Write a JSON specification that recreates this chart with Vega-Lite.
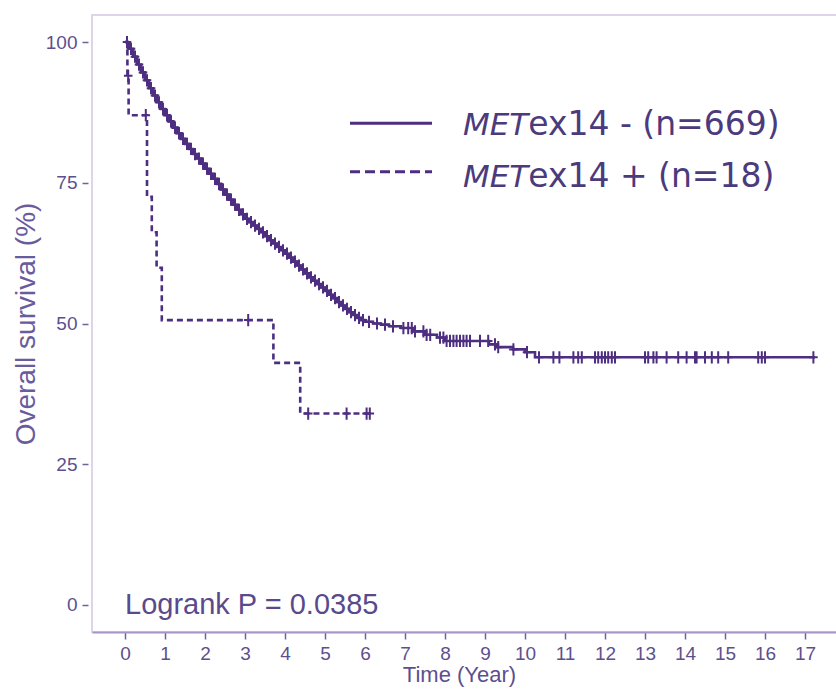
{
  "$schema": "https://vega.github.io/schema/vega-lite/v6.json",
  "autosize": {"type": "none"},
  "width": 746,
  "height": 617,
  "padding": {"left": 92, "top": 15, "right": 0, "bottom": 59},
  "background": "white",
  "config": {
    "view": {"stroke": "#ddd4ea", "strokeWidth": 2},
    "font": "Liberation Sans"
  },
  "datasets": {
    "curves": [
      {"group": "neg", "time": 0, "surv": 100},
      {"group": "neg", "time": 0.1, "surv": 98.8},
      {"group": "neg", "time": 0.2, "surv": 97.4},
      {"group": "neg", "time": 0.3, "surv": 96.0},
      {"group": "neg", "time": 0.4, "surv": 94.6},
      {"group": "neg", "time": 0.5, "surv": 93.2},
      {"group": "neg", "time": 0.6, "surv": 91.8},
      {"group": "neg", "time": 0.7, "surv": 90.5},
      {"group": "neg", "time": 0.8, "surv": 89.3},
      {"group": "neg", "time": 0.9, "surv": 88.1},
      {"group": "neg", "time": 1.0, "surv": 87.0},
      {"group": "neg", "time": 1.1, "surv": 85.9},
      {"group": "neg", "time": 1.2, "surv": 84.8},
      {"group": "neg", "time": 1.3, "surv": 83.8},
      {"group": "neg", "time": 1.4, "surv": 82.8},
      {"group": "neg", "time": 1.5, "surv": 81.9},
      {"group": "neg", "time": 1.6, "surv": 81.0},
      {"group": "neg", "time": 1.7, "surv": 80.1},
      {"group": "neg", "time": 1.8, "surv": 79.3},
      {"group": "neg", "time": 1.9, "surv": 78.4},
      {"group": "neg", "time": 2.0, "surv": 77.5},
      {"group": "neg", "time": 2.1, "surv": 76.6},
      {"group": "neg", "time": 2.2, "surv": 75.7},
      {"group": "neg", "time": 2.3, "surv": 74.8},
      {"group": "neg", "time": 2.4, "surv": 73.8},
      {"group": "neg", "time": 2.5, "surv": 72.9},
      {"group": "neg", "time": 2.6, "surv": 72.0},
      {"group": "neg", "time": 2.7, "surv": 71.1},
      {"group": "neg", "time": 2.8, "surv": 70.2},
      {"group": "neg", "time": 2.9, "surv": 69.4},
      {"group": "neg", "time": 3.0, "surv": 68.6},
      {"group": "neg", "time": 3.1, "surv": 68.0},
      {"group": "neg", "time": 3.2, "surv": 67.4},
      {"group": "neg", "time": 3.3, "surv": 66.8},
      {"group": "neg", "time": 3.4, "surv": 66.2},
      {"group": "neg", "time": 3.5, "surv": 65.5},
      {"group": "neg", "time": 3.6, "surv": 64.8},
      {"group": "neg", "time": 3.7, "surv": 64.2},
      {"group": "neg", "time": 3.8, "surv": 63.6},
      {"group": "neg", "time": 3.9, "surv": 63.0},
      {"group": "neg", "time": 4.0, "surv": 62.4},
      {"group": "neg", "time": 4.1, "surv": 61.7},
      {"group": "neg", "time": 4.2, "surv": 61.0},
      {"group": "neg", "time": 4.3, "surv": 60.3},
      {"group": "neg", "time": 4.4, "surv": 59.6},
      {"group": "neg", "time": 4.5, "surv": 58.9},
      {"group": "neg", "time": 4.6, "surv": 58.2},
      {"group": "neg", "time": 4.7, "surv": 57.6},
      {"group": "neg", "time": 4.8, "surv": 57.0},
      {"group": "neg", "time": 4.9, "surv": 56.4},
      {"group": "neg", "time": 5.0, "surv": 55.8},
      {"group": "neg", "time": 5.1, "surv": 55.1},
      {"group": "neg", "time": 5.2, "surv": 54.5},
      {"group": "neg", "time": 5.3, "surv": 53.8},
      {"group": "neg", "time": 5.4, "surv": 53.2},
      {"group": "neg", "time": 5.5, "surv": 52.6},
      {"group": "neg", "time": 5.6, "surv": 52.0},
      {"group": "neg", "time": 5.7, "surv": 51.5},
      {"group": "neg", "time": 5.8, "surv": 51.0},
      {"group": "neg", "time": 5.9, "surv": 50.6},
      {"group": "neg", "time": 6.0, "surv": 50.3},
      {"group": "neg", "time": 6.2, "surv": 50.0},
      {"group": "neg", "time": 6.4, "surv": 49.8},
      {"group": "neg", "time": 6.6, "surv": 49.5},
      {"group": "neg", "time": 6.9, "surv": 49.2},
      {"group": "neg", "time": 7.2, "surv": 48.6},
      {"group": "neg", "time": 7.5, "surv": 48.0},
      {"group": "neg", "time": 7.8, "surv": 47.5},
      {"group": "neg", "time": 8.0, "surv": 46.9},
      {"group": "neg", "time": 9.1, "surv": 46.3},
      {"group": "neg", "time": 9.3, "surv": 45.8},
      {"group": "neg", "time": 9.7, "surv": 45.4},
      {"group": "neg", "time": 10.0, "surv": 44.9},
      {"group": "neg", "time": 10.25, "surv": 44.0},
      {"group": "neg", "time": 17.25, "surv": 44.0},
      {"group": "pos", "time": 0, "surv": 100},
      {"group": "pos", "time": 0.06, "surv": 94.0},
      {"group": "pos", "time": 0.09, "surv": 87.0},
      {"group": "pos", "time": 0.55, "surv": 72.5},
      {"group": "pos", "time": 0.67, "surv": 66.2},
      {"group": "pos", "time": 0.79, "surv": 59.9},
      {"group": "pos", "time": 0.92, "surv": 50.6},
      {"group": "pos", "time": 3.71, "surv": 43.0},
      {"group": "pos", "time": 4.38, "surv": 34.0},
      {"group": "pos", "time": 6.15, "surv": 34.0}
    ],
    "censor": [
      {"group": "neg", "time": 0.05, "surv": 100},
      {"group": "neg", "time": 0.15, "surv": 98.8},
      {"group": "neg", "time": 0.25, "surv": 97.4},
      {"group": "neg", "time": 0.35, "surv": 96.0},
      {"group": "neg", "time": 0.45, "surv": 94.6},
      {"group": "neg", "time": 0.55, "surv": 93.2},
      {"group": "neg", "time": 0.65, "surv": 91.8},
      {"group": "neg", "time": 0.75, "surv": 90.5},
      {"group": "neg", "time": 0.85, "surv": 89.3},
      {"group": "neg", "time": 0.95, "surv": 88.1},
      {"group": "neg", "time": 1.05, "surv": 87.0},
      {"group": "neg", "time": 1.15, "surv": 85.9},
      {"group": "neg", "time": 1.25, "surv": 84.8},
      {"group": "neg", "time": 1.35, "surv": 83.8},
      {"group": "neg", "time": 1.45, "surv": 82.8},
      {"group": "neg", "time": 1.55, "surv": 81.9},
      {"group": "neg", "time": 1.65, "surv": 81.0},
      {"group": "neg", "time": 1.75, "surv": 80.1},
      {"group": "neg", "time": 1.85, "surv": 79.3},
      {"group": "neg", "time": 1.95, "surv": 78.4},
      {"group": "neg", "time": 2.05, "surv": 77.5},
      {"group": "neg", "time": 2.15, "surv": 76.6},
      {"group": "neg", "time": 2.25, "surv": 75.7},
      {"group": "neg", "time": 2.35, "surv": 74.8},
      {"group": "neg", "time": 2.45, "surv": 73.8},
      {"group": "neg", "time": 2.55, "surv": 72.9},
      {"group": "neg", "time": 2.65, "surv": 72.0},
      {"group": "neg", "time": 2.75, "surv": 71.1},
      {"group": "neg", "time": 2.85, "surv": 70.2},
      {"group": "neg", "time": 2.95, "surv": 69.4},
      {"group": "neg", "time": 3.05, "surv": 68.6},
      {"group": "neg", "time": 3.15, "surv": 68.0},
      {"group": "neg", "time": 3.25, "surv": 67.4},
      {"group": "neg", "time": 3.35, "surv": 66.8},
      {"group": "neg", "time": 3.45, "surv": 66.2},
      {"group": "neg", "time": 3.55, "surv": 65.5},
      {"group": "neg", "time": 3.65, "surv": 64.8},
      {"group": "neg", "time": 3.75, "surv": 64.2},
      {"group": "neg", "time": 3.85, "surv": 63.6},
      {"group": "neg", "time": 3.95, "surv": 63.0},
      {"group": "neg", "time": 4.05, "surv": 62.4},
      {"group": "neg", "time": 4.15, "surv": 61.7},
      {"group": "neg", "time": 4.25, "surv": 61.0},
      {"group": "neg", "time": 4.35, "surv": 60.3},
      {"group": "neg", "time": 4.45, "surv": 59.6},
      {"group": "neg", "time": 4.55, "surv": 58.9},
      {"group": "neg", "time": 4.65, "surv": 58.2},
      {"group": "neg", "time": 4.75, "surv": 57.6},
      {"group": "neg", "time": 4.85, "surv": 57.0},
      {"group": "neg", "time": 4.95, "surv": 56.4},
      {"group": "neg", "time": 5.05, "surv": 55.8},
      {"group": "neg", "time": 5.15, "surv": 55.1},
      {"group": "neg", "time": 5.25, "surv": 54.5},
      {"group": "neg", "time": 5.35, "surv": 53.8},
      {"group": "neg", "time": 5.45, "surv": 53.2},
      {"group": "neg", "time": 5.55, "surv": 52.6},
      {"group": "neg", "time": 5.65, "surv": 52.0},
      {"group": "neg", "time": 5.75, "surv": 51.5},
      {"group": "neg", "time": 5.85, "surv": 51.0},
      {"group": "neg", "time": 5.95, "surv": 50.6},
      {"group": "neg", "time": 6.1, "surv": 50.3},
      {"group": "neg", "time": 6.3, "surv": 50.0},
      {"group": "neg", "time": 6.5, "surv": 49.8},
      {"group": "neg", "time": 6.7, "surv": 49.5},
      {"group": "neg", "time": 6.96, "surv": 49.2},
      {"group": "neg", "time": 7.08, "surv": 49.2},
      {"group": "neg", "time": 7.17, "surv": 49.2},
      {"group": "neg", "time": 7.25, "surv": 48.6},
      {"group": "neg", "time": 7.46, "surv": 48.6},
      {"group": "neg", "time": 7.54, "surv": 48.0},
      {"group": "neg", "time": 7.63, "surv": 48.0},
      {"group": "neg", "time": 7.875, "surv": 47.5},
      {"group": "neg", "time": 7.96, "surv": 47.5},
      {"group": "neg", "time": 8.04, "surv": 46.9},
      {"group": "neg", "time": 8.125, "surv": 46.9},
      {"group": "neg", "time": 8.21, "surv": 46.9},
      {"group": "neg", "time": 8.29, "surv": 46.9},
      {"group": "neg", "time": 8.375, "surv": 46.9},
      {"group": "neg", "time": 8.46, "surv": 46.9},
      {"group": "neg", "time": 8.54, "surv": 46.9},
      {"group": "neg", "time": 8.625, "surv": 46.9},
      {"group": "neg", "time": 8.875, "surv": 46.9},
      {"group": "neg", "time": 9.08, "surv": 46.9},
      {"group": "neg", "time": 9.25, "surv": 46.3},
      {"group": "neg", "time": 9.33, "surv": 45.8},
      {"group": "neg", "time": 9.71, "surv": 45.4},
      {"group": "neg", "time": 10.05, "surv": 44.9},
      {"group": "neg", "time": 10.35, "surv": 44.0},
      {"group": "neg", "time": 10.71, "surv": 44.0},
      {"group": "neg", "time": 10.86, "surv": 44.0},
      {"group": "neg", "time": 11.21, "surv": 44.0},
      {"group": "neg", "time": 11.33, "surv": 44.0},
      {"group": "neg", "time": 11.42, "surv": 44.0},
      {"group": "neg", "time": 11.75, "surv": 44.0},
      {"group": "neg", "time": 11.83, "surv": 44.0},
      {"group": "neg", "time": 11.92, "surv": 44.0},
      {"group": "neg", "time": 12.0, "surv": 44.0},
      {"group": "neg", "time": 12.08, "surv": 44.0},
      {"group": "neg", "time": 12.17, "surv": 44.0},
      {"group": "neg", "time": 12.25, "surv": 44.0},
      {"group": "neg", "time": 13.0, "surv": 44.0},
      {"group": "neg", "time": 13.08, "surv": 44.0},
      {"group": "neg", "time": 13.21, "surv": 44.0},
      {"group": "neg", "time": 13.29, "surv": 44.0},
      {"group": "neg", "time": 13.54, "surv": 44.0},
      {"group": "neg", "time": 13.83, "surv": 44.0},
      {"group": "neg", "time": 14.04, "surv": 44.0},
      {"group": "neg", "time": 14.25, "surv": 44.0},
      {"group": "neg", "time": 14.29, "surv": 44.0},
      {"group": "neg", "time": 14.5, "surv": 44.0},
      {"group": "neg", "time": 14.67, "surv": 44.0},
      {"group": "neg", "time": 14.83, "surv": 44.0},
      {"group": "neg", "time": 15.08, "surv": 44.0},
      {"group": "neg", "time": 15.83, "surv": 44.0},
      {"group": "neg", "time": 15.92, "surv": 44.0},
      {"group": "neg", "time": 16.0, "surv": 44.0},
      {"group": "neg", "time": 17.21, "surv": 44.0},
      {"group": "pos", "time": 0.08, "surv": 94.0},
      {"group": "pos", "time": 0.52, "surv": 87.0},
      {"group": "pos", "time": 3.08, "surv": 50.6},
      {"group": "pos", "time": 4.58, "surv": 34.0},
      {"group": "pos", "time": 5.54, "surv": 34.0},
      {"group": "pos", "time": 6.04, "surv": 34.0},
      {"group": "pos", "time": 6.12, "surv": 34.0}
    ],
    "notes": [{"note": "annotation"}]
  },
  "layer": [
    {
      "data": {"name": "curves"},
      "mark": {"type": "line", "interpolate": "step-after", "color": "#4d2e80", "strokeWidth": 2.6},
      "encoding": {
        "x": {
          "field": "time", "type": "quantitative",
          "scale": {"domain": [-0.825, 17.825], "nice": false, "zero": false},
          "axis": {
            "values": [0,1,2,3,4,5,6,7,8,9,10,11,12,13,14,15,16,17],
            "title": "Time (Year)",
            "grid": false,
            "domainColor": "#a595cb", "domainWidth": 2,
            "tickColor": "#6f609f", "tickSize": 7, "tickWidth": 1.5,
            "labelColor": "#5d4f8e", "labelFontSize": 19, "labelPadding": 5,
            "labelFont": "Liberation Sans",
            "titleColor": "#5d4f8e", "titleFontSize": 22, "titleFontWeight": "normal",
            "titleFont": "Liberation Sans", "titlePadding": 1, "titleX": 367
          }
        },
        "y": {
          "field": "surv", "type": "quantitative",
          "scale": {"domain": [-4.8, 104.8], "nice": false, "zero": false},
          "axis": {
            "values": [0, 25, 50, 75, 100],
            "title": "Overall survival (%)",
            "grid": false,
            "domain": false,
            "offset": 4,
            "tickColor": "#6f609f", "tickSize": 6, "tickWidth": 1.5,
            "labelColor": "#5d4f8e", "labelFontSize": 19, "labelPadding": 5,
            "labelFont": "Liberation Sans",
            "titleColor": "#6a5b9c", "titleFontSize": 28, "titleFontWeight": "normal",
            "titleFont": "Liberation Sans", "titlePadding": 5
          }
        },
        "strokeDash": {
          "field": "group", "type": "nominal",
          "scale": {"domain": ["neg", "pos"], "range": [[1, 0], [6, 4]]},
          "legend": null
        },
        "detail": {"field": "group"}
      }
    },
    {
      "data": {"name": "censor"},
      "mark": {
        "type": "point",
        "shape": "M-0.7,0H0.7M0,-1V1",
        "filled": false,
        "size": 150,
        "strokeWidth": 2,
        "color": "#4d2e80",
        "opacity": 1
      },
      "encoding": {
        "x": {"field": "time", "type": "quantitative"},
        "y": {"field": "surv", "type": "quantitative"}
      }
    },
    {
      "data": {"name": "notes"},
      "mark": {"type": "text", "text": "Logrank P = 0.0385", "align": "left", "baseline": "middle",
               "font": "Liberation Sans", "fontSize": 29, "color": "#5a4a8c"},
      "encoding": {
        "x": {"datum": 0, "type": "quantitative"},
        "y": {"datum": 0, "type": "quantitative"}
      }
    },
    {
      "data": {"name": "notes"},
      "mark": {"type": "rule", "color": "#4d2e80", "strokeWidth": 3},
      "encoding": {
        "x": {"datum": 5.625, "type": "quantitative"},
        "x2": {"datum": 7.675},
        "y": {"datum": 85.55, "type": "quantitative"}
      }
    },
    {
      "data": {"name": "notes"},
      "mark": {"type": "rule", "color": "#4d2e80", "strokeWidth": 3, "strokeDash": [10, 5]},
      "encoding": {
        "x": {"datum": 5.625, "type": "quantitative"},
        "x2": {"datum": 7.675},
        "y": {"datum": 76.96, "type": "quantitative"}
      }
    },
    {
      "data": {"name": "notes"},
      "mark": {"type": "text", "text": "MET", "align": "right", "baseline": "alphabetic",
               "font": "DejaVu Sans", "fontStyle": "italic", "fontSize": 31, "color": "#4b3b7d"},
      "encoding": {
        "x": {"datum": 10.08, "type": "quantitative"},
        "y": {"datum": 83.5, "type": "quantitative"}
      }
    },
    {
      "data": {"name": "notes"},
      "mark": {"type": "text", "text": "ex14 - (n=669)", "align": "left", "baseline": "alphabetic",
               "font": "DejaVu Sans", "fontSize": 33, "color": "#4b3b7d"},
      "encoding": {
        "x": {"datum": 10.08, "type": "quantitative"},
        "y": {"datum": 83.5, "type": "quantitative"}
      }
    },
    {
      "data": {"name": "notes"},
      "mark": {"type": "text", "text": "MET", "align": "right", "baseline": "alphabetic",
               "font": "DejaVu Sans", "fontStyle": "italic", "fontSize": 31, "color": "#4b3b7d"},
      "encoding": {
        "x": {"datum": 10.08, "type": "quantitative"},
        "y": {"datum": 74.3, "type": "quantitative"}
      }
    },
    {
      "data": {"name": "notes"},
      "mark": {"type": "text", "text": "ex14 + (n=18)", "align": "left", "baseline": "alphabetic",
               "font": "DejaVu Sans", "fontSize": 33, "color": "#4b3b7d"},
      "encoding": {
        "x": {"datum": 10.08, "type": "quantitative"},
        "y": {"datum": 74.3, "type": "quantitative"}
      }
    }
  ]
}
